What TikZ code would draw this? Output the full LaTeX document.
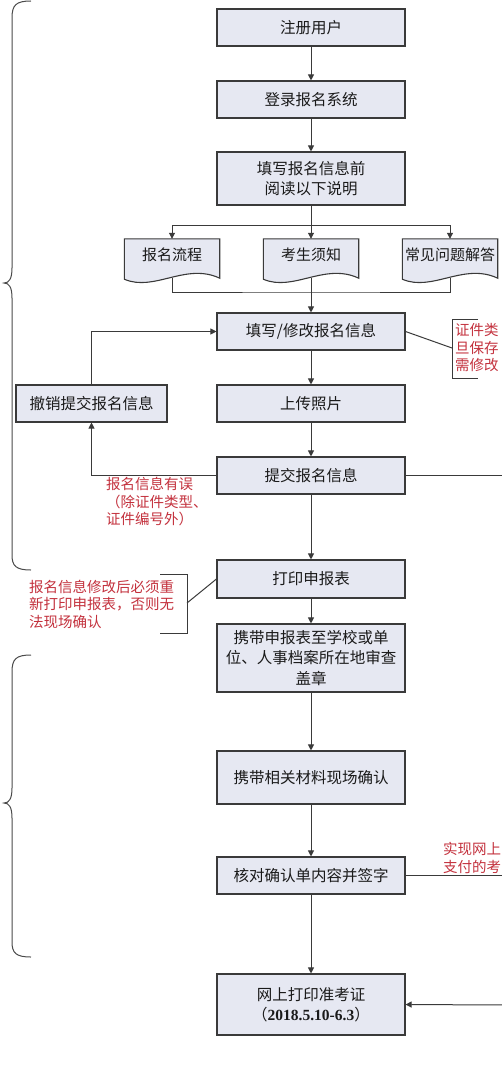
\documentclass[tikz,border=0pt]{standalone}
\usepackage{fontspec}
\setmainfont{Noto Sans CJK SC}
\newfontfamily\numfont{Liberation Serif}
\usetikzlibrary{arrows.meta,calc,backgrounds}
\definecolor{Ink}{HTML}{1A1A1A}
\definecolor{Edge}{HTML}{3A3A3A}
\definecolor{BoxFill}{HTML}{E6E8F2}
\definecolor{NoteRed}{HTML}{C3313D}
\definecolor{Brace}{HTML}{4A4A4A}

\begin{document}
\begin{tikzpicture}[
  x=1pt,y=-1pt,
  font=\fontsize{15.5}{20.5}\selectfont,
  box/.style={draw=Edge, fill=BoxFill, line width=1.1pt, text=Ink, align=center, minimum width=188pt, minimum height=37pt, inner sep=2pt},
  doc/.style={text=Ink, align=center, minimum width=95pt, minimum height=32pt, inner sep=1pt, font=\fontsize{15}{18}\selectfont},
  wave/.style={draw=Edge, fill=BoxFill, line width=1.1pt},
  note/.style={text=NoteRed, align=left, inner sep=0pt, font=\fontsize{14.5}{17.5}\selectfont},
  link/.style={draw=Edge, line width=1pt},
  arr/.style={-{Triangle[length=6pt,width=6pt]}, line width=1pt, draw=Edge},
  brace/.style={draw=Brace, line width=1pt}
]
  \useasboundingbox (0,0) rectangle (501,1065);

  \draw[brace] (31,1) .. controls (16,1) and (12,5) .. (12,18) -- (12,268)
    .. controls (12,279) and (9,283) .. (4,283) .. controls (9,283) and (12,287) .. (12,298)
    -- (12,555) .. controls (12,566) and (16,570) .. (31,570);
  \draw[brace] (31,655) .. controls (16,655) and (12,659) .. (12,672) -- (12,788)
    .. controls (12,799) and (9,803) .. (4,803) .. controls (9,803) and (12,807) .. (12,818)
    -- (12,942) .. controls (12,953) and (16,957) .. (31,957);

  \node[box] (reg) at (311,27.5) {注册用户};
  \node[box] (login) at (311,99.5) {登录报名系统};
  \node[box, minimum height=53pt] (read) at (311,178.5) {填写报名信息前\\阅读以下说明};
  \node[doc] (flow) at (172,255) {报名流程};
  \node[doc] (notice) at (311,255) {考生须知};
  \node[doc] (faq) at (450,255) {常见问题解答};
  \node[box] (fill) at (311,331.5) {填写/修改报名信息};
  \node[box, minimum width=151pt] (undo) at (91.5,403.5) {撤销提交报名信息};
  \node[box] (photo) at (311,403.5) {上传照片};
  \node[box] (submit) at (311,475.5) {提交报名信息};
  \node[box, minimum height=38pt] (print) at (311,579) {打印申报表};
  \node[box, minimum height=68pt] (stamp) at (311,658) {携带申报表至学校或单\\位、人事档案所在地审查\\盖章};
  \node[box, minimum height=53pt] (confirm) at (311,777.5) {携带相关材料现场确认};
  \node[box] (check) at (311,875.5) {核对确认单内容并签字};
  \node[box, minimum height=61pt] (ticket) at (311,1004.5) {网上打印准考证\\（{\numfont\bfseries 2018.5.10-6.3}）};

  \node[note, anchor=west] (errNote) at (106,502) {报名信息有误\\（除证件类型、\\证件编号外）};
  \node[note, anchor=west] (idNote) at (455,348) {证件类\\旦保存\\需修改};
  \node[note, anchor=west] (reprintNote) at (29,604) {报名信息修改后必须重\\新打印申报表，否则无\\法现场确认};
  \node[note, anchor=west] (payNote) at (443,858) {实现网上\\支付的考};

  \begin{scope}[on background layer]
    \foreach \d in {flow,notice,faq}
      \draw[wave] (\d.north west) -- (\d.north east) -- ($(\d.south east)+(0,7)$)
        .. controls ($(\d.south east)+(-34,-9)$) and ($(\d.south west)+(30,21)$) .. ($(\d.south west)+(0,8)$) -- cycle;
  \end{scope}

  \coordinate (split) at (311,225);
  \coordinate (join) at (311,292);
  \coordinate (idTick) at (452,348);
  \coordinate (reprintTick) at (187,603);
  \coordinate (edgeA) at (505,475.5);
  \coordinate (edgeB) at (505,875.5);
  \coordinate (edgeC) at (505,1005);

  \draw[arr] (reg) -- (login);
  \draw[arr] (login) -- (read);
  \draw[arr] (read.south) -- (notice.north);
  \draw[arr] (split) -| (flow.north);
  \draw[arr] (split) -| (faq.north);
  \draw[link] ($(flow.south)+(0,7)$) |- (join) -| ($(faq.south)+(0,7)$);
  \draw[arr] ($(notice.south)+(0,7)$) -- (fill.north);
  \draw[arr] (fill) -- (photo);
  \draw[arr] (photo) -- (submit);
  \draw[arr] (submit.west) -| (undo.south);
  \draw[arr] (undo.north) |- (fill.west);
  \draw[arr] (submit) -- (print);
  \draw[arr] (print) -- (stamp);
  \draw[arr] (stamp) -- (confirm);
  \draw[arr] (confirm) -- (check);
  \draw[arr] (check) -- (ticket);
  \draw[link] (submit.east) -- (edgeA);
  \draw[link] (check.east) -- (edgeB);
  \draw[arr] (edgeC) -- (ticket.east);

  \draw[link] (fill.east) -- (idTick);
  \draw[link] (478,319) -- (452,319) -- (452,378) -- (478,378);
  \draw[link] (reprintTick) -- (print.west);
  \draw[link] (160,574) -- (187,574) -- (187,633) -- (160,633);
\end{tikzpicture}
\end{document}
